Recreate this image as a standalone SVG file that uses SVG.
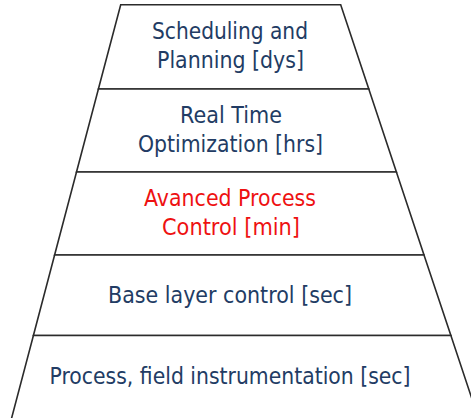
<svg xmlns="http://www.w3.org/2000/svg" width="471" height="418" viewBox="0 0 471 418">
<style>
.layer{fill:#ffffff;stroke:#2b2b2b;stroke-width:1.6;stroke-linejoin:miter}
.t{font-family:"DejaVu Sans","Liberation Sans",sans-serif;font-size:23px;fill:#223c64;text-anchor:middle}
.red{fill:#ee1111}
</style>
<rect width="471" height="418" fill="#ffffff"/>
<g id="layer1">
<polygon class="layer" points="120.7,4.7 340.7,4.7 368.8,89 98.4,89"/>
<text class="t" x="230" y="39" textLength="156" lengthAdjust="spacingAndGlyphs">Scheduling and</text>
<text class="t" x="230.5" y="68" textLength="147" lengthAdjust="spacingAndGlyphs">Planning [dys]</text>
</g>
<g id="layer2">
<polygon class="layer" points="98.4,89 368.8,89 396.4,172 76.5,172"/>
<text class="t" x="231" y="122.5" textLength="102" lengthAdjust="spacingAndGlyphs">Real Time</text>
<text class="t" x="230.5" y="151.5" textLength="185" lengthAdjust="spacingAndGlyphs">Optimization [hrs]</text>
</g>
<g id="layer3">
<polygon class="layer" points="76.5,172 396.4,172 424,255 54.6,255"/>
<text class="t red" x="230" y="206" textLength="172" lengthAdjust="spacingAndGlyphs">Avanced Process</text>
<text class="t red" x="231" y="235" textLength="138" lengthAdjust="spacingAndGlyphs">Control [min]</text>
</g>
<g id="layer4">
<polygon class="layer" points="54.6,255 424,255 450.9,335.5 33.4,335.5"/>
<text class="t" x="230" y="303" textLength="244" lengthAdjust="spacingAndGlyphs">Base layer control [sec]</text>
</g>
<g id="layer5">
<polygon class="layer" points="33.4,335.5 450.9,335.5 479,420 11.1,420"/>
<text class="t" x="230" y="383.5" textLength="361" lengthAdjust="spacingAndGlyphs">Process, field instrumentation [sec]</text>
</g>
<g id="connectors"></g>
</svg>
